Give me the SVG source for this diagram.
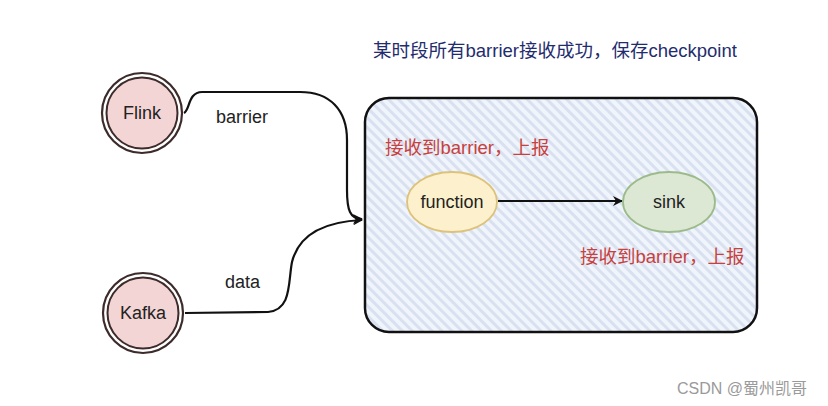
<svg xmlns="http://www.w3.org/2000/svg" width="828" height="406" viewBox="0 0 828 406">
<style>
  .lbl{font-family:"Liberation Sans","Noto Sans CJK SC",sans-serif;font-size:18px;fill:#222}
  .ctr{text-anchor:middle}
  .red{fill:#c8413e;font-size:18.5px;font-family:"Liberation Sans","Noto Sans CJK SC",sans-serif}
  .title{fill:#1f2d6e;font-size:18.5px;font-family:"Liberation Sans","Noto Sans CJK SC",sans-serif}
  .edge{fill:none;stroke:#111;stroke-width:2.2}
  .ring{fill:none;stroke:#3d2b2b;stroke-width:2.2}
  .core{fill:#f3d5d5;stroke:#3d2b2b;stroke-width:2}
</style>
<defs>
  <pattern id="hatch" patternUnits="userSpaceOnUse" width="7" height="7" patternTransform="rotate(-45)">
    <rect width="7" height="7" fill="#f0f4fb"/>
    <rect width="3" height="7" fill="#d9e1f1"/>
  </pattern>
  <marker id="arr" viewBox="0 0 10 10" refX="9" refY="5" markerWidth="10" markerHeight="10" markerUnits="userSpaceOnUse" orient="auto">
    <path d="M0,0 L10,5 L0,10 L3,5 Z" fill="#111"/>
  </marker>
</defs>
<rect width="828" height="406" fill="#fff"/>
<text class="title" x="373" y="57">某时段所有barrier接收成功，保存checkpoint</text>
<g id="container">
  <rect x="365" y="98" width="392" height="234" rx="24" ry="24" fill="url(#hatch)" stroke="#111" stroke-width="2.5"/>
</g>
<g id="connectors">
  <path class="edge" d="M184,113 C190,110 188,92 202,92 L300,92 C330,92 347,110 347,140 L347,190 C347,210 350,219 362,219" marker-end="url(#arr)"/>
  <path class="edge" d="M185,313 L268,312 C292,310 288,282 292,262 C298,238 318,222 362,220" marker-end="url(#arr)"/>
  <path class="edge" d="M498,201 L622,201" marker-end="url(#arr)"/>
  <text class="lbl" x="216" y="123">barrier</text>
  <text class="lbl" x="225" y="288">data</text>
</g>
<g id="flink">
  <circle class="ring" cx="142" cy="113" r="40"/>
  <circle class="core" cx="142" cy="113" r="35.5"/>
  <text class="lbl ctr" x="142" y="119">Flink</text>
</g>
<g id="kafka">
  <circle class="ring" cx="143" cy="313" r="40"/>
  <circle class="core" cx="143" cy="313" r="35.5"/>
  <text class="lbl ctr" x="143" y="319">Kafka</text>
</g>
<g id="function">
  <ellipse cx="452" cy="202" rx="45" ry="30" fill="#fdf0cc" stroke="#dcc27a" stroke-width="1.8"/>
  <text class="lbl ctr" x="452" y="208">function</text>
</g>
<g id="sink">
  <ellipse cx="669" cy="202" rx="46" ry="30" fill="#dce8d4" stroke="#9cbb8a" stroke-width="1.8"/>
  <text class="lbl ctr" x="669" y="208">sink</text>
</g>
<text class="red" x="385" y="154">接收到barrier，上报</text>
<text class="red" x="580" y="263">接收到barrier，上报</text>
<text x="677" y="394" font-family="Liberation Sans,Noto Sans CJK SC,sans-serif" font-size="16" fill="#9a9a9a">CSDN @蜀州凯哥</text>
</svg>
